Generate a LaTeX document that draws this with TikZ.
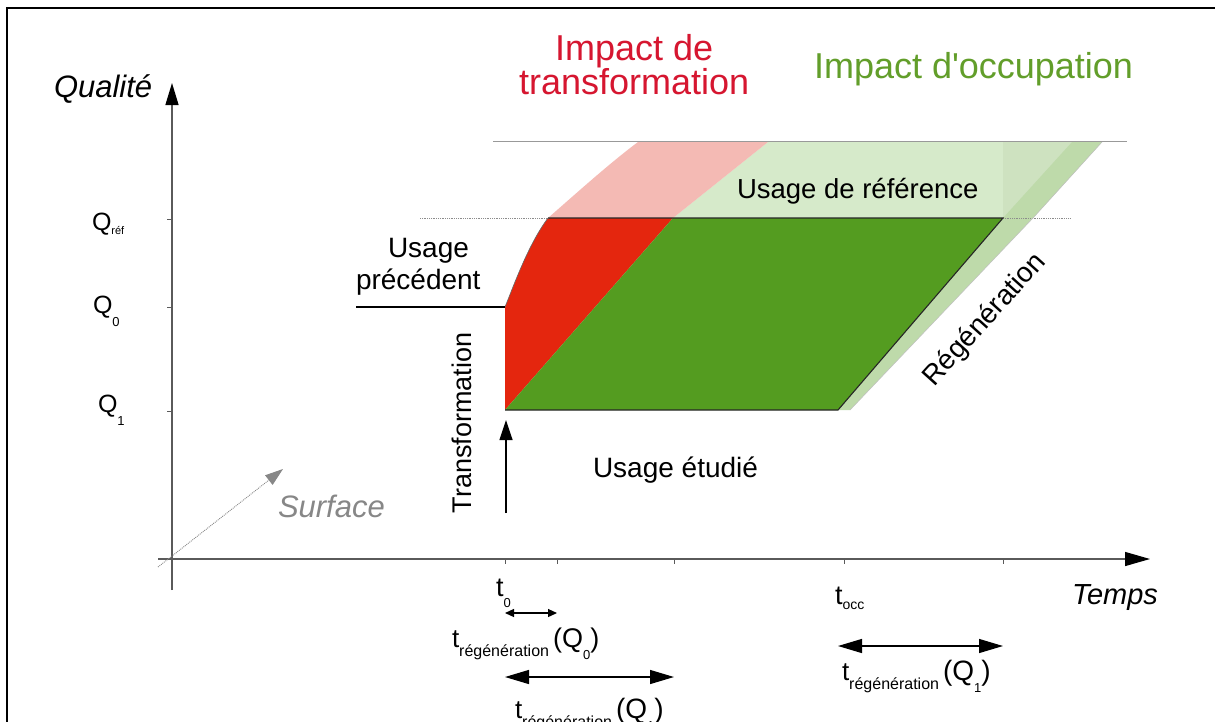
\documentclass[tikz,border=0pt]{standalone}
\usepackage{fontspec}
\setmainfont{Liberation Sans}
\usetikzlibrary{arrows.meta}
\newcommand\fs[1]{\fontsize{#1}{#1}\selectfont}
\definecolor{redT}{RGB}{228,38,14}
\definecolor{greenO}{RGB}{84,156,32}
\definecolor{pinkT}{RGB}{244,186,180}
\definecolor{lgA}{RGB}{214,234,202}
\definecolor{lgB}{RGB}{206,226,192}
\definecolor{bandG}{RGB}{190,218,170}
\definecolor{titleRed}{RGB}{214,22,48}
\definecolor{titleGreen}{RGB}{98,158,42}
\definecolor{axisgray}{RGB}{90,90,90}
\definecolor{surfgray}{RGB}{135,135,135}
\begin{document}
\begin{tikzpicture}[x=1pt,y=-1pt,
  lbl/.style={inner sep=0pt, outer sep=0pt, anchor=base west},
  axisline/.style={draw=axisgray, line width=1.3pt},
  tickline/.style={draw=axisgray, line width=0.9pt},
  edgeline/.style={draw=black!85, line width=1.1pt},
  guide/.style={draw=black!45, line width=0.8pt, densely dotted},
  bigdouble/.style={line width=1.2pt, {Triangle[length=24pt,width=14pt]}-{Triangle[length=24pt,width=14pt]}},
  smalldouble/.style={line width=1.2pt, {Triangle[length=9pt,width=8pt]}-{Triangle[length=9pt,width=8pt]}}
]
\useasboundingbox (0,0) rectangle (1215,721);
\clip (0,0) rectangle (1215,721);
\fill[white] (0,0) rectangle (1215,721);
% frame
\draw[line width=2.6pt] (7,740) -- (7,8) -- (1240,8);

% ---- shapes ----
\fill[lgA] (673,218) -- (768,142) -- (1003,142) -- (1003,218) -- cycle;
\fill[lgB] (1003,142) -- (1102,142) -- (1033,218) -- (1003,218) -- cycle;
\fill[bandG] (838,410) -- (1003,218) -- (1072,142) -- (1102,142) -- (1033,218) -- (850,410) -- cycle;
\fill[pinkT] (548,218) .. controls (580,190) and (610,163) .. (638,142) -- (768,142) -- (673,218) -- cycle;
\fill[redT] (505,410) -- (505,307) .. controls (514,285) and (528,245) .. (548,218) -- (673,218) -- cycle;
\fill[greenO] (505,410) -- (673,218) -- (1003,218) -- (838,410) -- cycle;

% guide lines
\draw[draw=black!40, line width=0.7pt] (493,141) -- (1127,141);
\draw[guide] (420,218) -- (548,218);
\draw[guide] (1003,218) -- (1070,218);

% edges
\draw[edgeline] (548,218) -- (1003,218) -- (838,410) -- (505,410);
\draw[draw=black!60, line width=0.6pt] (505,307) .. controls (514,285) and (528,245) .. (548,218);
\draw[draw=black!25, line width=0.5pt] (1102,142) -- (1033,218) -- (850,410);
\draw[line width=1.5pt] (356,307) -- (505,307);

% ---- axes ----
\coordinate (yb) at (172,590);
\coordinate (yt) at (172,83);
\coordinate (xb) at (158,559);
\coordinate (xt) at (1150,559);
\draw[axisline, -{Triangle[length=22pt,width=13pt,color=black]}] (yb) -- (yt);
\draw[axisline, -{Triangle[length=25pt,width=14pt,color=black]}] (xb) -- (xt);
\foreach \yy in {219,307,411} \draw[tickline] (167,\yy) -- (172,\yy);
\foreach \xx in {505,557,674,844,1003} \draw[tickline] (\xx,559) -- (\xx,564);

% surface arrow
\coordinate (sb) at (158,567);
\coordinate (st) at (283,469);
\draw[draw=surfgray, line width=0.9pt, densely dotted, -{Triangle[length=18pt,width=12pt,color=surfgray]}] (sb) -- (st);

% transformation arrow
\coordinate (trb) at (506,513);
\coordinate (trt) at (506,420);
\draw[line width=1.2pt, -{Triangle[length=20pt,width=13pt]}] (trb) -- (trt);

% time span arrows
\coordinate (a0l) at (505,613);
\coordinate (a0r) at (557,613);
\draw[smalldouble] (a0l) -- (a0r);
\coordinate (a1l) at (505,677);
\coordinate (a1r) at (674,677);
\draw[bigdouble] (a1l) -- (a1r);
\coordinate (a2l) at (838,646);
\coordinate (a2r) at (1003,646);
\draw[bigdouble] (a2l) -- (a2r);

% ---- texts ----
\node[lbl, font=\fs{31}\itshape] (qual) at (54,97) {Qualité};
\node[lbl, font=\fs{25}] (qref) at (92,230) {Q\raisebox{-4pt}{\fs{11}réf}};
\node[lbl, font=\fs{25}] (q0) at (93,313) {Q\raisebox{-13pt}{\fs{13}0}};
\node[lbl, font=\fs{25}] (q1) at (98,412) {Q\raisebox{-13pt}{\fs{13}1}};

\node[lbl, font=\fs{36}, text=titleRed] (tra) at (555,60) {Impact de};
\node[lbl, font=\fs{36}, text=titleRed] (trb2) at (519,94) {transformation};
\node[lbl, font=\fs{36}, text=titleGreen] (occ) at (814,78) {Impact d\textquotesingle occupation};

\node[lbl, font=\fs{27.5}] (uref) at (737,198) {Usage de référence};
\node[lbl, font=\fs{28}] (uprec1) at (388,257) {Usage};
\node[lbl, font=\fs{28}] (uprec2) at (356,289) {précédent};
\node[lbl, font=\fs{28}] (uetu) at (593,477) {Usage étudié};
\node[inner sep=0pt, font=\fs{27}, rotate=90] (transf) at (462,423) {Transformation};
\node[inner sep=0pt, font=\fs{28}, rotate=48] (regen) at (985,320) {Régénération};
\node[lbl, font=\fs{31}\itshape, text=surfgray] (surf) at (278,517) {Surface};
\node[lbl, font=\fs{29}\itshape] (temps) at (1072,604) {Temps};

\node[lbl, font=\fs{27}] (t0) at (496,596) {t\raisebox{-11pt}{\fs{13}0}};
\node[lbl, font=\fs{27}] (tocc) at (835,604) {t\raisebox{-5pt}{\fs{14}occ}};
\node[lbl, font=\fs{26}] (trq0) at (452,647) {t\raisebox{-9pt}{\fs{16}régénération}\hspace{4pt}{\fs{27}(Q\raisebox{-12pt}{\fs{13}0})}};
\node[lbl, font=\fs{26}] (trq1r) at (842,680) {t\raisebox{-9pt}{\fs{16}régénération}\hspace{4pt}{\fs{28}(Q\raisebox{-12pt}{\fs{13}1})}};
\node[lbl, font=\fs{26}] (trq1b) at (515,718) {t\raisebox{-9pt}{\fs{16}régénération}\hspace{4pt}{\fs{28}(Q\raisebox{-12pt}{\fs{13}1})}};
\end{tikzpicture}
\end{document}
